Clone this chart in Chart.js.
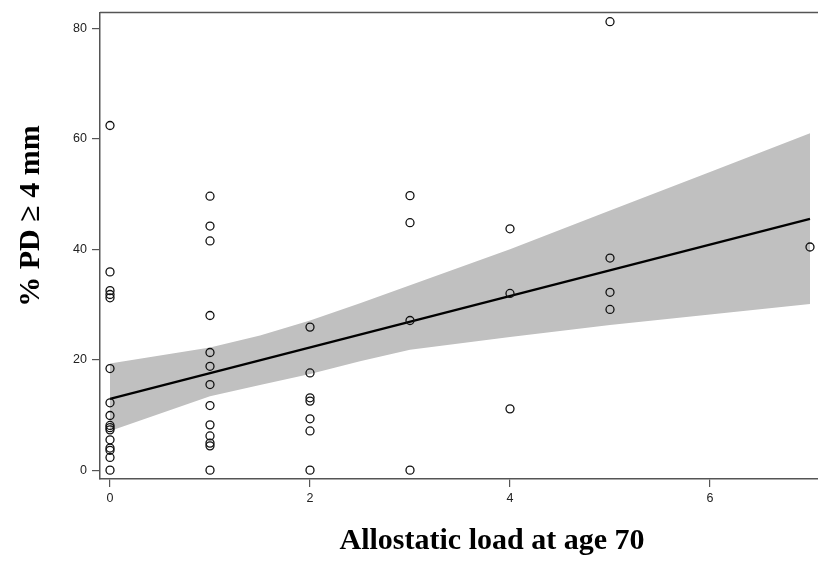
<!DOCTYPE html>
<html>
<head>
<meta charset="utf-8">
<script src="https://cdn.jsdelivr.net/npm/chart.js@4.4.1/dist/chart.umd.min.js"></script>
<style>
html, body { margin: 0; padding: 0; background: #fff; overflow: hidden; }
#wrap { width: 900px; height: 566px; }
</style>
</head>
<body>
<div id="wrap"><canvas id="plChart" width="900" height="566"></canvas></div>
<script>
// allostatic load score (x) and % sites with PD >= 4 mm (y), grouped by score
var loadLevels = [0, 1, 2, 3, 4, 5, 7];
var pdAt0 = [62.4, 35.9, 32.5, 31.8, 31.2, 18.4, 12.2, 9.9, 8.1, 7.7, 7.3, 5.5, 4.0, 3.6, 2.3, 0];
var pdAt1 = [49.6, 44.2, 41.5, 28.0, 21.3, 18.8, 15.5, 11.7, 8.2, 6.2, 4.9, 4.4, 0];
var pdAt2 = [25.9, 17.6, 13.1, 12.5, 9.3, 7.1, 0];
var pdAt3 = [49.7, 44.8, 27.1, 0];
var pdAt4 = [43.7, 32.0, 11.1];
var pdAt5 = [81.2, 38.4, 32.2, 29.1];
var pdAt7 = [40.4];

// fitted line and 95% confidence band
var fitX = [0, 7];
var fitY = [12.9, 45.5];
var bandX = [0, 1, 1.5, 2, 2.5, 3, 4, 5, 6, 7];
var bandUpper = [19.3, 22.2, 24.4, 27.1, 30.2, 33.5, 40.0, 47.0, 54.0, 61.0];
var bandLower = [7.1, 13.4, 15.4, 17.4, 19.7, 21.8, 24.1, 26.3, 28.2, 30.1];

// tick labels
var xTicks = [0, 2, 4, 6];
var yTicks = [0, 20, 40, 60, 80];

var xTitle = 'Allostatic load at age 70';
var yTitle = '% PD \u2265 4 mm';

function toPoints(xs, ys)
{
    var pts = [];
    for (var i = 0; i < xs.length; i++) {
        pts.push({x: xs[i], y: ys[i]});
    }
    return pts;
}

function scatterPoints()
{
    var groups = [pdAt0, pdAt1, pdAt2, pdAt3, pdAt4, pdAt5, pdAt7];
    var pts = [];
    for (var g = 0; g < groups.length; g++) {
        for (var j = 0; j < groups[g].length; j++) {
            pts.push({x: loadLevels[g], y: groups[g][j]});
        }
    }
    return pts;
}

// top frame line plus the two axis titles
var framePlugin = {
    id: 'framePlugin',
    afterDraw: function(chart) {
        var ctx = chart.ctx;
        var area = chart.chartArea;
        ctx.save();
        ctx.strokeStyle = '#555';
        ctx.lineWidth = 1.5;
        ctx.beginPath();
        ctx.moveTo(area.left, area.top);
        ctx.lineTo(area.right, area.top);
        ctx.stroke();

        ctx.fillStyle = '#000';
        ctx.font = 'bold 30px "Liberation Serif", "Times New Roman", serif';
        ctx.textAlign = 'center';
        ctx.textBaseline = 'middle';
        ctx.fillText(xTitle, 492, 541);

        ctx.translate(31, 216);
        ctx.rotate(-Math.PI / 2);
        ctx.fillText(yTitle, 0, 0);
        ctx.restore();
    }
};

var ctx = document.getElementById('plChart');
var chart = new Chart(ctx, {
    type: 'scatter',
    data: {
        datasets: [
            {
                type: 'scatter',
                data: scatterPoints(),
                pointStyle: 'circle',
                pointRadius: 4,
                pointBorderWidth: 1.3,
                pointBorderColor: '#111',
                pointBackgroundColor: 'rgba(0,0,0,0)',
                order: 0
            },
            {
                type: 'line',
                data: toPoints(fitX, fitY),
                borderColor: '#000',
                borderWidth: 2.2,
                pointRadius: 0,
                fill: false,
                tension: 0,
                order: 1
            },
            {
                type: 'line',
                data: toPoints(bandX, bandUpper),
                borderWidth: 0,
                borderColor: 'rgba(0,0,0,0)',
                backgroundColor: '#c0c0c0',
                pointRadius: 0,
                fill: '+1',
                tension: 0,
                order: 2
            },
            {
                type: 'line',
                data: toPoints(bandX, bandLower),
                borderWidth: 0,
                borderColor: 'rgba(0,0,0,0)',
                pointRadius: 0,
                fill: false,
                tension: 0,
                order: 3
            }
        ]
    },
    options: {
        responsive: false,
        animation: false,
        layout: { padding: { left: 0, top: 6, right: 16, bottom: 0 } },
        plugins: {
            legend: { display: false },
            tooltip: { enabled: false }
        },
        scales: {
            x: {
                type: 'linear',
                min: -0.1,
                max: 7.74,
                afterBuildTicks: function(scale) {
                    scale.ticks = xTicks.map(function(v) { return {value: v}; });
                },
                afterFit: function(scale) { scale.height = 87; },
                grid: { drawOnChartArea: false, drawTicks: true, tickLength: 8, color: '#555', lineWidth: 1.2 },
                border: { display: true, color: '#555', width: 1.5 },
                ticks: {
                    padding: 4,
                    color: '#222',
                    font: { family: '"Liberation Sans", Arial, sans-serif', size: 12.5 }
                }
            },
            y: {
                type: 'linear',
                min: -1.6,
                max: 82.86,
                afterBuildTicks: function(scale) {
                    scale.ticks = yTicks.map(function(v) { return {value: v}; });
                },
                afterFit: function(scale) { scale.width = 100; },
                grid: { drawOnChartArea: false, drawTicks: true, tickLength: 8, color: '#555', lineWidth: 1.2 },
                border: { display: true, color: '#555', width: 1.5 },
                ticks: {
                    padding: 5,
                    color: '#222',
                    font: { family: '"Liberation Sans", Arial, sans-serif', size: 12.5 }
                }
            }
        }
    },
    plugins: [framePlugin]
});
</script>
</body>
</html>
